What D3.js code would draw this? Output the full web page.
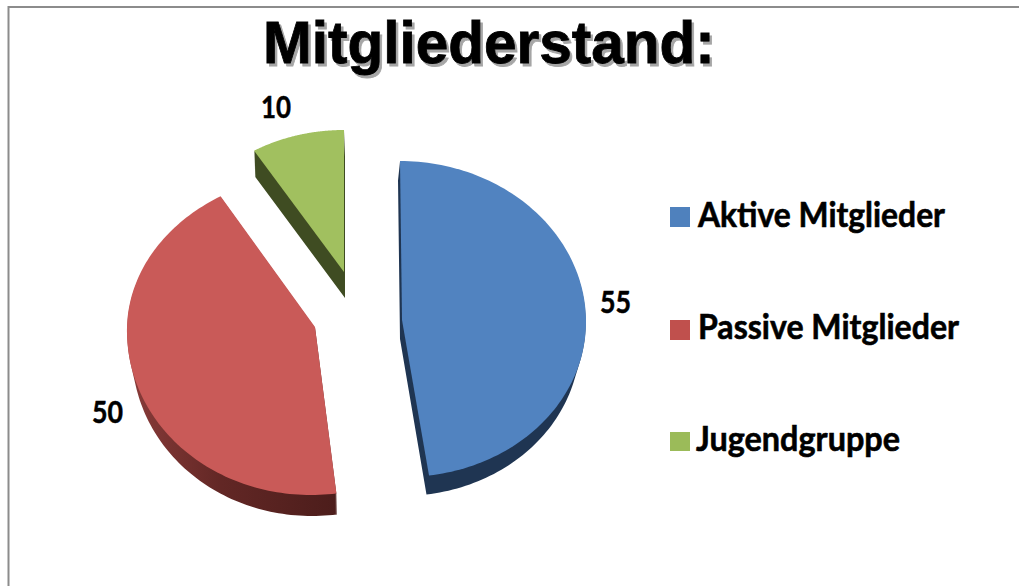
<!DOCTYPE html>
<html><head><meta charset="utf-8">
<script src="https://cdn.jsdelivr.net/npm/d3@7"></script>
<style>html,body{margin:0;padding:0;background:#fff}svg{display:block}</style>
</head><body><svg id="c" width="1019" height="586"></svg>
<script>
const titleText = "Mitgliederstand:";
const categories = ["Aktive Mitglieder", "Passive Mitglieder", "Jugendgruppe"];
const values = [55, 50, 10];
const legendColors = ["#4f81bd", "#c0504d", "#9bbb59"];
const topColors = ["#5183c0", "#c95a58", "#a1c05f"];

// Layout of each exploded slice as seen in the tilted view
const geom = [
  {cx:402, cy:320, rx:184, rt:159, rb:157, skew:0.0126, dx:-2, dy:19, shrink:4, side:"#1f3552",
   label:{x:600, y:313, w:31}, legend:{y:207, w:247, tx:698, base:227}},
  {cx:315, cy:327, rx:188, rt:153, rb:168, skew:-0.025, dx:1, dy:21, shrink:4, side:"url(#redSide)",
   label:{x:92, y:423, w:31}, legend:{y:320, w:261, tx:698, base:339}},
  {cx:344, cy:272, rx:173, rt:142, rb:142, skew:0, dx:1, dy:26, shrink:0, side:"#3f4c22",
   label:{x:261, y:118, w:30}, legend:{y:432, w:204, tx:696, base:451}}
];

const svg = d3.select("#c");
const defs = svg.append("defs");
const grad = defs.append("linearGradient").attr("id","redSide")
  .attr("gradientUnits","userSpaceOnUse").attr("x1",127).attr("x2",337).attr("y1",0).attr("y2",0);
grad.append("stop").attr("offset",0).attr("stop-color","#8a3c3a");
grad.append("stop").attr("offset",0.45).attr("stop-color","#622725");
grad.append("stop").attr("offset",1).attr("stop-color","#4c1d1b");

// frame
svg.append("path").attr("d","M8.5,586V7H1019").attr("fill","none")
  .attr("stroke","#8c8c8c").attr("stroke-width",2);

const pie = d3.pie().sort(null)(values);
const line = d3.line();

function outline(d, g, ox, oy, shrink) {
  const steps = d3.range(0, 121).map(i => d.startAngle + (d.endAngle - d.startAngle) * i / 120);
  const pts = [[g.cx + ox, g.cy + oy]];
  steps.forEach(a => {
    const c = Math.cos(a);
    const y = -c * (c > 0 ? g.rt : g.rb);
    pts.push([g.cx + (g.rx - shrink) * Math.sin(a) + g.skew * y + ox, g.cy + y + oy]);
  });
  return line(pts) + "Z";
}

const slices = svg.append("g").selectAll("g").data(pie).join("g");
slices.append("path")
  .attr("fill", (d,i) => geom[i].side)
  .attr("d", (d,i) => {
    const g = geom[i];
    return d3.range(1, g.dy + 1).map(k => outline(d, g, g.dx * k / g.dy, k, g.shrink * k / g.dy)).join("");
  });
slices.append("path")
  .attr("fill", (d,i) => topColors[i])
  .attr("d", (d,i) => outline(d, geom[i], 0, 0, 0));

// value labels
svg.append("g").selectAll("text").data(values).join("text")
  .attr("x",(d,i)=>geom[i].label.x).attr("y",(d,i)=>geom[i].label.y)
  .attr("textLength",(d,i)=>geom[i].label.w).attr("lengthAdjust","spacingAndGlyphs")
  .attr("font-family","Lato, sans-serif").attr("font-weight",700).attr("font-size",31)
  .attr("fill","#000").attr("stroke","#000").attr("stroke-width",0.5).text(d=>d);

// legend
const leg = svg.append("g").selectAll("g").data(categories).join("g");
leg.append("rect").attr("x",670).attr("y",(d,i)=>geom[i].legend.y)
  .attr("width",20).attr("height",(d,i)=>i===2?19:20).attr("fill",(d,i)=>legendColors[i]);
leg.append("text").attr("x",(d,i)=>geom[i].legend.tx).attr("y",(d,i)=>geom[i].legend.base)
  .attr("textLength",(d,i)=>geom[i].legend.w).attr("lengthAdjust","spacingAndGlyphs")
  .attr("font-family","Lato, sans-serif").attr("font-weight",700).attr("font-size",34)
  .attr("fill","#000").attr("stroke","#000").attr("stroke-width",0.6).text(d=>d);

// title with shadow
const title = svg.append("g").attr("font-family","'Liberation Sans', Arial, sans-serif")
  .attr("font-weight",700).attr("font-size",58.5);
title.append("text").attr("x",265.5).attr("y",65.5).attr("fill","#a6a6a6")
  .attr("stroke","#a6a6a6").attr("stroke-width",0.8).text(titleText);
title.append("text").attr("x",263).attr("y",63).attr("fill","#000")
  .attr("stroke","#000").attr("stroke-width",0.8).text(titleText);
</script></body></html>
